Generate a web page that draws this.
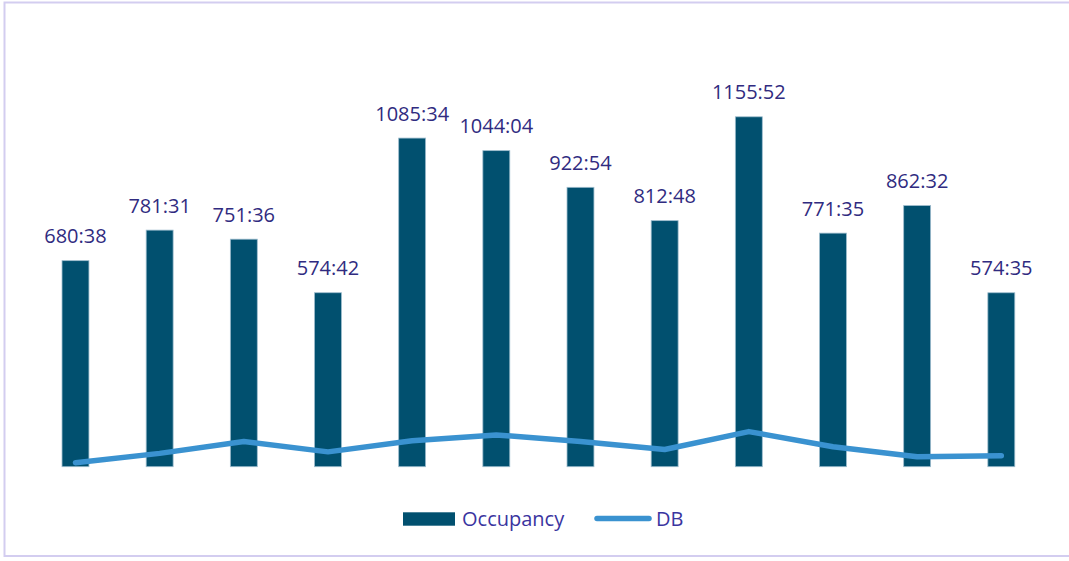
<!DOCTYPE html>
<html>
<head>
<meta charset="utf-8">
<script src="https://cdn.jsdelivr.net/npm/d3@7"></script>
<style>
  html, body { margin: 0; padding: 0; background: #fff; }
  svg { display: block; }
</style>
</head>
<body>
<div id="chart"></div>
<script>
// chart values
const categories = ["1", "2", "3", "4", "5", "6", "7", "8", "9", "10", "11", "12"];
const occupancyLabels = ["680:38", "781:31", "751:36", "574:42", "1085:34", "1044:04",
  "922:54", "812:48", "1155:52", "771:35", "862:32", "574:35"];
// DB drawn on the same scale (hours)
const dbValues = [13, 44, 83, 49, 86, 105, 83, 57, 116, 66, 33, 36];
const yDomain = [0, 1400];

const toHours = s => {
  const [h, m] = s.split(":").map(Number);
  return h + m / 60;
};

const width = 1069;
const height = 561;

const svg = d3
  .select("#chart")
  .append("svg")
  .attr("width", width)
  .attr("height", height);

// frame
svg
  .append("rect")
  .attr("x", 4.5)
  .attr("y", 2.5)
  .attr("width", 1080)
  .attr("height", 553.5)
  .attr("fill", "none")
  .attr("stroke", "#d3cdf0")
  .attr("stroke-width", 2);

const x = d3
  .scaleBand()
  .domain(categories)
  .range([33.4, 1043.4])
  .paddingInner(0.68)
  .paddingOuter(0.34);

const y = d3
  .scaleLinear()
  .domain(yDomain)
  .range([466.7, 42.9]);

const data = categories.map((c, i) => ({
  cat: c,
  label: occupancyLabels[i],
  occ: toHours(occupancyLabels[i]),
  db: dbValues[i]
}));

svg
  .selectAll(".bar")
  .data(data)
  .enter()
  .append("rect")
  .attr("class", "bar")
  .attr("x", d => x(d.cat))
  .attr("y", d => y(d.occ))
  .attr("width", x.bandwidth())
  .attr("height", d => y(0) - y(d.occ))
  .attr("fill", "#01506f")
  .attr("stroke", "#9dbccd")
  .attr("stroke-width", 0.8);

svg
  .selectAll(".lbl")
  .data(data)
  .enter()
  .append("text")
  .attr("class", "lbl")
  .attr("x", d => x(d.cat) + x.bandwidth() / 2)
  .attr("y", d => y(d.occ) - 17.4)
  .attr("text-anchor", "middle")
  .attr("font-family", "'Open Sans', sans-serif")
  .attr("font-size", "20px")
  .attr("fill", "#302b80")
  .text(d => d.label);

const line = d3
  .line()
  .x(d => x(d.cat) + x.bandwidth() / 2)
  .y(d => y(d.db));

svg
  .append("path")
  .datum(data)
  .attr("d", line)
  .attr("fill", "none")
  .attr("stroke", "#3a92d0")
  .attr("stroke-width", 5.5)
  .attr("stroke-linecap", "round")
  .attr("stroke-linejoin", "round");

// legend
const legend = svg.append("g").attr("font-family", "'Open Sans', sans-serif").attr("font-size", "20px").attr("fill", "#3a35a0");

legend
  .append("rect")
  .attr("x", 403)
  .attr("y", 512.3)
  .attr("width", 52)
  .attr("height", 13.4)
  .attr("fill", "#01506f");

legend
  .append("text")
  .attr("x", 462)
  .attr("y", 525.7)
  .text("Occupancy");

legend
  .append("line")
  .attr("x1", 597)
  .attr("x2", 649)
  .attr("y1", 518.6)
  .attr("y2", 518.6)
  .attr("stroke", "#3a92d0")
  .attr("stroke-width", 5.5)
  .attr("stroke-linecap", "round");

legend
  .append("text")
  .attr("x", 656)
  .attr("y", 525.7)
  .text("DB");
</script>
</body>
</html>
